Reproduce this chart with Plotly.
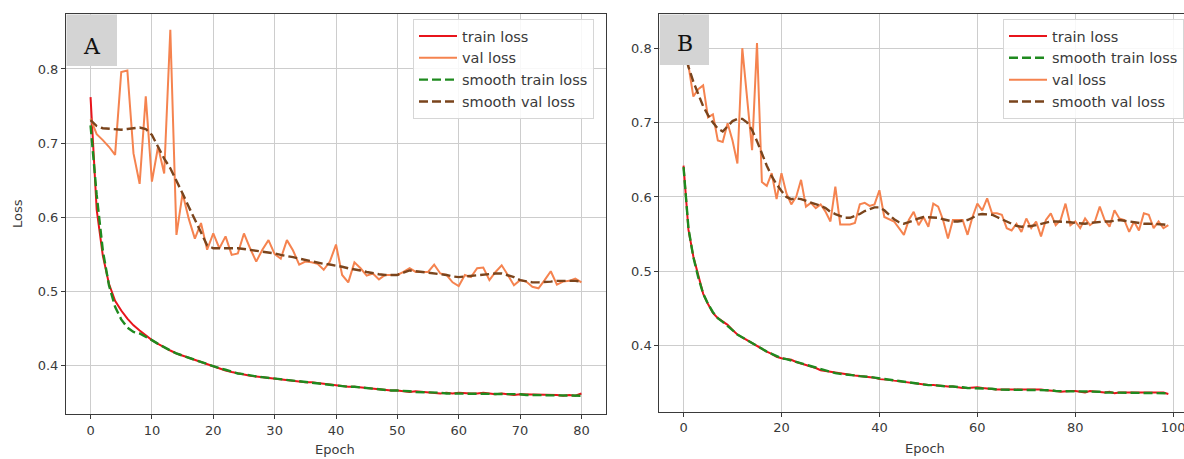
import plotly.graph_objects as go

W, H = 1184, 459

# ---------------- data ----------------
epochs_A = list(range(0, 81))
train_A = [0.762, 0.610, 0.548, 0.510, 0.487, 0.474, 0.463, 0.454, 0.447, 0.440,
           0.434, 0.429, 0.424, 0.420, 0.416, 0.413, 0.410, 0.407, 0.404, 0.401,
           0.398, 0.396, 0.393, 0.391, 0.389, 0.388, 0.386, 0.385, 0.384, 0.382,
           0.382, 0.380, 0.380, 0.379, 0.378, 0.377, 0.377, 0.376, 0.376, 0.374,
           0.373, 0.372, 0.371, 0.371, 0.370, 0.369, 0.368, 0.368, 0.367, 0.366,
           0.366, 0.365, 0.364, 0.365, 0.364, 0.363, 0.363, 0.362, 0.363, 0.362,
           0.363, 0.362, 0.362, 0.362, 0.363, 0.362, 0.361, 0.362, 0.361, 0.360,
           0.361, 0.361, 0.360, 0.361, 0.360, 0.360, 0.360, 0.359, 0.360, 0.359,
           0.362]
smooth_train_A = [0.724, 0.630, 0.555, 0.508, 0.479, 0.462, 0.451, 0.445, 0.443, 0.439,
                  0.434, 0.429, 0.424, 0.420, 0.416, 0.413, 0.410, 0.407, 0.404, 0.401,
                  0.398, 0.396, 0.394, 0.391, 0.389, 0.388, 0.386, 0.385, 0.384, 0.383,
                  0.382, 0.381, 0.380, 0.379, 0.378, 0.377, 0.377, 0.376, 0.375, 0.374,
                  0.373, 0.372, 0.371, 0.371, 0.370, 0.369, 0.368, 0.368, 0.367, 0.366,
                  0.366, 0.365, 0.365, 0.364, 0.364, 0.363, 0.363, 0.363, 0.362, 0.362,
                  0.362, 0.362, 0.362, 0.362, 0.362, 0.362, 0.361, 0.361, 0.361, 0.361,
                  0.361, 0.360, 0.360, 0.360, 0.360, 0.360, 0.360, 0.360, 0.359, 0.359,
                  0.359]
val_A = [0.733, 0.712, 0.704, 0.695, 0.684, 0.796, 0.798, 0.686, 0.645, 0.763,
         0.648, 0.695, 0.659, 0.853, 0.576, 0.632, 0.598, 0.571, 0.592, 0.556,
         0.578, 0.558, 0.574, 0.549, 0.551, 0.578, 0.558, 0.540, 0.556, 0.569,
         0.550, 0.544, 0.569, 0.555, 0.536, 0.540, 0.539, 0.537, 0.529, 0.540,
         0.563, 0.522, 0.512, 0.539, 0.531, 0.521, 0.524, 0.516, 0.522, 0.522,
         0.522, 0.526, 0.531, 0.526, 0.526, 0.526, 0.536, 0.524, 0.522, 0.512,
         0.507, 0.522, 0.519, 0.531, 0.532, 0.515, 0.526, 0.535, 0.522, 0.508,
         0.515, 0.513, 0.506, 0.504, 0.515, 0.527, 0.509, 0.513, 0.514, 0.517,
         0.512]
smooth_val_A = [0.731, 0.723, 0.720, 0.719, 0.718, 0.718, 0.719, 0.720, 0.721, 0.719,
                0.711, 0.695, 0.679, 0.666, 0.650, 0.632, 0.614, 0.596, 0.578, 0.562,
                0.558, 0.558, 0.559, 0.558, 0.558, 0.557, 0.556, 0.555, 0.553, 0.552,
                0.551, 0.549, 0.548, 0.546, 0.544, 0.542, 0.540, 0.538, 0.537, 0.536,
                0.535, 0.533, 0.531, 0.530, 0.528, 0.526, 0.524, 0.523, 0.522, 0.522,
                0.522, 0.525, 0.528, 0.527, 0.526, 0.526, 0.525, 0.523, 0.522, 0.520,
                0.519, 0.520, 0.521, 0.522, 0.523, 0.524, 0.524, 0.524, 0.522, 0.519,
                0.515, 0.513, 0.512, 0.512, 0.512, 0.513, 0.514, 0.514, 0.515, 0.514,
                0.513]

epochs_B = list(range(0, 100))
train_B = [0.642, 0.556, 0.520, 0.493, 0.470, 0.456, 0.444, 0.437, 0.432, 0.428,
           0.421, 0.415, 0.411, 0.407, 0.403, 0.399, 0.395, 0.392, 0.389, 0.385,
           0.383, 0.382, 0.381, 0.378, 0.376, 0.374, 0.373, 0.370, 0.367, 0.366,
           0.365, 0.363, 0.362, 0.361, 0.361, 0.360, 0.359, 0.359, 0.358, 0.357,
           0.355, 0.355, 0.354, 0.353, 0.352, 0.351, 0.350, 0.349, 0.349, 0.348,
           0.347, 0.347, 0.346, 0.346, 0.345, 0.345, 0.344, 0.343, 0.343, 0.344,
           0.344, 0.343, 0.342, 0.342, 0.341, 0.341, 0.341, 0.342, 0.341, 0.341,
           0.341, 0.341, 0.341, 0.341, 0.340, 0.340, 0.339, 0.338, 0.339, 0.339,
           0.339, 0.338, 0.337, 0.339, 0.338, 0.338, 0.337, 0.338, 0.336, 0.337,
           0.337, 0.336, 0.336, 0.337, 0.337, 0.336, 0.337, 0.337, 0.337, 0.335]
smooth_train_B = [0.640, 0.558, 0.519, 0.492, 0.470, 0.456, 0.445, 0.437, 0.432, 0.427,
                  0.421, 0.415, 0.411, 0.407, 0.403, 0.399, 0.395, 0.392, 0.389, 0.386,
                  0.383, 0.382, 0.380, 0.378, 0.376, 0.374, 0.372, 0.370, 0.368, 0.366,
                  0.365, 0.363, 0.362, 0.361, 0.361, 0.360, 0.359, 0.359, 0.358, 0.357,
                  0.356, 0.355, 0.354, 0.353, 0.352, 0.351, 0.350, 0.349, 0.349, 0.348,
                  0.347, 0.347, 0.346, 0.346, 0.345, 0.345, 0.344, 0.344, 0.343, 0.343,
                  0.343, 0.343, 0.342, 0.342, 0.341, 0.341, 0.341, 0.341, 0.341, 0.341,
                  0.341, 0.341, 0.341, 0.340, 0.340, 0.340, 0.339, 0.339, 0.339, 0.339,
                  0.338, 0.338, 0.338, 0.338, 0.338, 0.338, 0.337, 0.337, 0.337, 0.337,
                  0.337, 0.337, 0.336, 0.336, 0.336, 0.336, 0.336, 0.336, 0.336, 0.336]
val_B = [0.830, 0.777, 0.735, 0.745, 0.750, 0.707, 0.711, 0.676, 0.674, 0.699,
         0.676, 0.645, 0.800, 0.730, 0.663, 0.807, 0.620, 0.615, 0.632, 0.597,
         0.632, 0.605, 0.590, 0.600, 0.623, 0.587, 0.592, 0.585, 0.590, 0.580,
         0.567, 0.614, 0.563, 0.563, 0.563, 0.565, 0.590, 0.592, 0.588, 0.590,
         0.609, 0.573, 0.570, 0.567, 0.558, 0.549, 0.569, 0.580, 0.562, 0.573,
         0.560, 0.591, 0.587, 0.569, 0.544, 0.569, 0.569, 0.569, 0.549, 0.573,
         0.591, 0.582, 0.598, 0.578, 0.578, 0.576, 0.558, 0.555, 0.564, 0.553,
         0.571, 0.558, 0.567, 0.547, 0.569, 0.578, 0.562, 0.569, 0.591, 0.562,
         0.567, 0.558, 0.571, 0.562, 0.567, 0.587, 0.569, 0.560, 0.582, 0.571,
         0.569, 0.553, 0.567, 0.555, 0.578, 0.576, 0.558, 0.567, 0.558, 0.562]
smooth_val_B = [0.800, 0.775, 0.755, 0.738, 0.722, 0.710, 0.700, 0.692, 0.688, 0.695,
                0.702, 0.705, 0.705, 0.700, 0.690, 0.675, 0.658, 0.642, 0.628, 0.617,
                0.608, 0.600, 0.597, 0.598, 0.597, 0.595, 0.592, 0.590, 0.588, 0.585,
                0.580, 0.577, 0.574, 0.572, 0.572, 0.574, 0.577, 0.581, 0.584, 0.586,
                0.586, 0.582, 0.576, 0.570, 0.566, 0.564, 0.566, 0.569, 0.571, 0.573,
                0.573, 0.573, 0.572, 0.570, 0.568, 0.567, 0.567, 0.568, 0.569, 0.572,
                0.576, 0.577, 0.577, 0.576, 0.573, 0.570, 0.567, 0.564, 0.561, 0.560,
                0.560, 0.561, 0.562, 0.564, 0.566, 0.567, 0.567, 0.567, 0.567, 0.566,
                0.565, 0.564, 0.564, 0.565, 0.566, 0.567, 0.567, 0.567, 0.568, 0.569,
                0.568, 0.567, 0.566, 0.565, 0.564, 0.564, 0.564, 0.564, 0.563, 0.562]

ticks_A_x = [0, 10, 20, 30, 40, 50, 60, 70, 80]
ticks_B_x = [0, 20, 40, 60, 80, 100]
ticks_y_A = [0.4, 0.5, 0.6, 0.7, 0.8]
ticks_y_B = [0.4, 0.5, 0.6, 0.7, 0.8]

# ---------------- styles ----------------
C_TRAIN = "#e8141b"
C_VAL = "#f5834f"
C_STRAIN = "#1f8a1f"
C_SVAL = "#7a441c"
DASH = "9px,4px"
FONT = "DejaVu Sans"
TXT = "#3a3a3a"

fig = go.Figure()

def add(x, y, name, color, dash, xa, ya, legend, width=2.2):
    fig.add_trace(go.Scatter(
        x=x, y=y, name=name, mode="lines",
        line=dict(color=color, width=width, dash=dash),
        xaxis=xa, yaxis=ya, legend=legend, hoverinfo="skip"))

# Panel A (legend order: train, val, smooth train, smooth val)
add(epochs_A, train_A, "train loss", C_TRAIN, "solid", "x", "y", "legend", 2.0)
add(epochs_A, val_A, "val loss", C_VAL, "solid", "x", "y", "legend", 2.0)
add(epochs_A, smooth_train_A, "smooth train loss", C_STRAIN, DASH, "x", "y", "legend", 2.4)
add(epochs_A, smooth_val_A, "smooth val loss", C_SVAL, DASH, "x", "y", "legend", 2.4)

# Panel B (legend order: train, smooth train, val, smooth val)
add(epochs_B, train_B, "train loss", C_TRAIN, "solid", "x2", "y2", "legend2", 2.0)
add(epochs_B, smooth_train_B, "smooth train loss", C_STRAIN, DASH, "x2", "y2", "legend2", 2.4)
add(epochs_B, val_B, "val loss", C_VAL, "solid", "x2", "y2", "legend2", 2.0)
add(epochs_B, smooth_val_B, "smooth val loss", C_SVAL, DASH, "x2", "y2", "legend2", 2.4)

def px_x(p):
    return p / W

def px_y(p):
    return 1 - p / H

axis_common = dict(
    showgrid=True, gridcolor="#cdcdcd", gridwidth=1,
    zeroline=False, showline=True, linecolor="#3a3a3a", linewidth=1,
    ticks="outside", ticklen=4, tickwidth=1, tickcolor="#3a3a3a",
    tickfont=dict(family=FONT, size=13, color=TXT),
    ticklabeloverflow="allow",
)

legend_common = dict(
    xanchor="left", yanchor="top",
    bgcolor="rgba(255,255,255,0.85)", bordercolor="#d6d6d6", borderwidth=1,
    font=dict(family=FONT, size=14.5, color=TXT),
    traceorder="normal", tracegroupgap=0, itemwidth=38,
)

fig.update_layout(
    width=W, height=H,
    margin=dict(l=0, r=0, t=0, b=0, autoexpand=False),
    paper_bgcolor="white", plot_bgcolor="white",
    showlegend=True,
    xaxis=dict(domain=[px_x(66), px_x(606)], range=[-4, 84], anchor="y",
               tickvals=ticks_A_x, mirror=True, **axis_common),
    yaxis=dict(domain=[px_y(414), px_y(14)], range=[0.3343, 0.8742], anchor="x",
               tickvals=ticks_y_A, tickformat=".1f", mirror=True, **axis_common),
    xaxis2=dict(domain=[px_x(659.3), 1.0], range=[-4.95, 102.2], anchor="y2",
                tickvals=ticks_B_x, mirror=True, **axis_common),
    yaxis2=dict(domain=[px_y(411.7), px_y(14)], range=[0.3112, 0.846], anchor="x2",
                tickvals=ticks_y_B, tickformat=".1f", mirror=False, **axis_common),
    legend=dict(x=px_x(413), y=px_y(19), **legend_common),
    legend2=dict(x=px_x(1003), y=px_y(19), **legend_common),
)

# panel letter boxes
fig.add_shape(type="rect", xref="paper", yref="paper",
              x0=px_x(66.5), x1=px_x(117), y0=px_y(66), y1=px_y(14.5),
              fillcolor="#d4d4d4", line=dict(width=0), layer="above")
fig.add_shape(type="rect", xref="paper", yref="paper",
              x0=px_x(659.8), x1=px_x(709), y0=px_y(65), y1=px_y(14.5),
              fillcolor="#d4d4d4", line=dict(width=0), layer="above")
fig.add_annotation(x=px_x(92), y=px_y(46), xref="paper", yref="paper", text="A",
                   showarrow=False, font=dict(family="DejaVu Serif", size=22, color="#111111"),
                   xanchor="center", yanchor="middle")
fig.add_annotation(x=px_x(685), y=px_y(43), xref="paper", yref="paper", text="B",
                   showarrow=False, font=dict(family="DejaVu Serif", size=22, color="#111111"),
                   xanchor="center", yanchor="middle")

# axis titles
fig.add_annotation(x=px_x(335), y=px_y(449), xref="paper", yref="paper", text="Epoch",
                   showarrow=False, font=dict(family=FONT, size=13, color=TXT),
                   xanchor="center", yanchor="middle")
fig.add_annotation(x=px_x(925), y=px_y(448), xref="paper", yref="paper", text="Epoch",
                   showarrow=False, font=dict(family=FONT, size=13, color=TXT),
                   xanchor="center", yanchor="middle")
fig.add_annotation(x=px_x(17), y=px_y(214), xref="paper", yref="paper", text="Loss",
                   showarrow=False, textangle=-90,
                   font=dict(family=FONT, size=13, color=TXT),
                   xanchor="center", yanchor="middle")

fig.write_html("out.html",
               config={"displayModeBar": False},
               post_script="document.body.style.margin='0px';document.body.style.overflow='hidden';")
